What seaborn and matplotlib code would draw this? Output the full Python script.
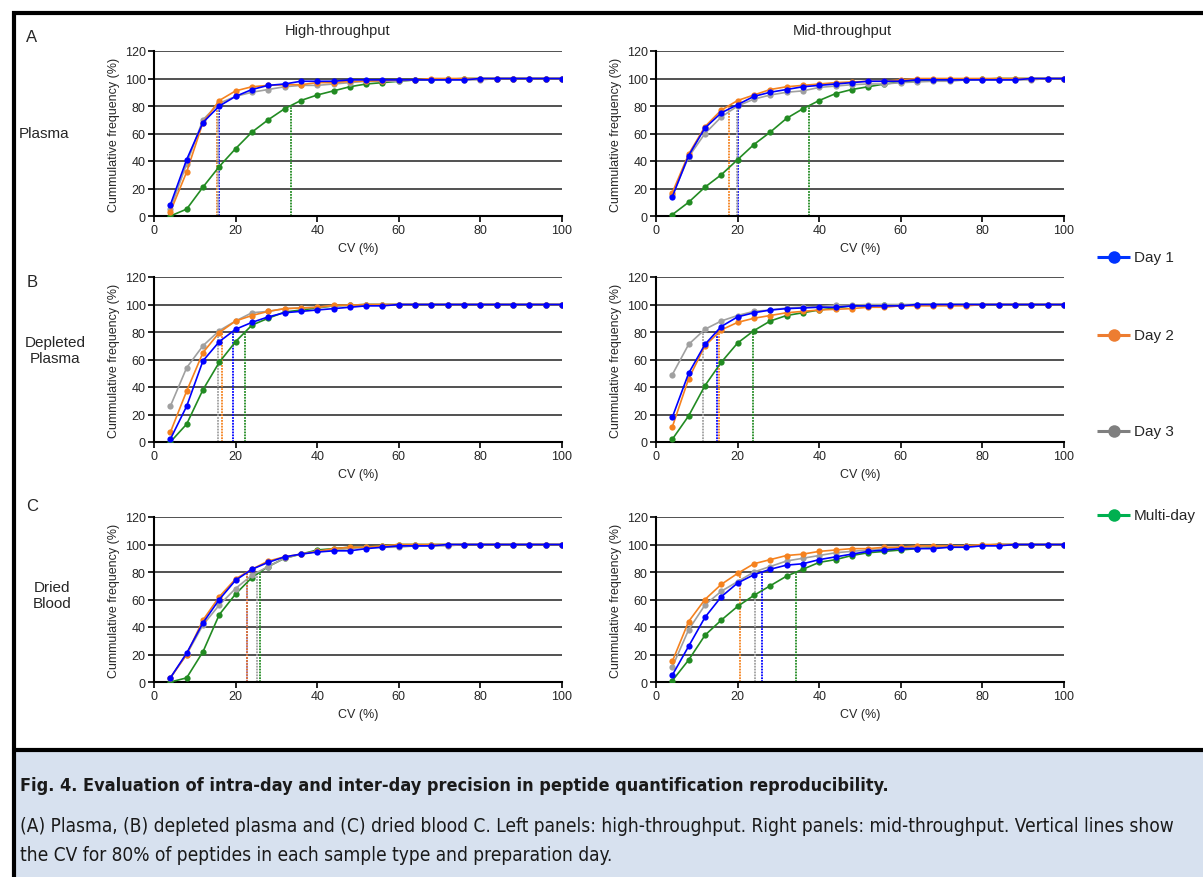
import pandas as pd
import matplotlib.pyplot as plt
import seaborn as sns
from matplotlib.lines import Line2D
from matplotlib.patches import Rectangle

# CV bins (%)
cv = [4, 8, 12, 16, 20, 24, 28, 32, 36, 40, 44, 48, 52, 56, 60, 64, 68, 72, 76, 80, 84, 88, 92, 96, 100]

series_names = ["Day 1", "Day 2", "Day 3", "Multi-day"]

# A - Plasma, high-throughput
plasma_ht_d1 = [8, 41, 68, 80, 87, 92, 95, 96, 98, 98, 98, 99, 99, 99, 99, 99, 99, 99, 99, 100, 100, 100, 100, 100, 100]
plasma_ht_d2 = [3, 32, 68, 84, 91, 94, 95, 95.5, 95.5, 97, 97, 98, 98, 98.5, 99, 99, 100, 100, 100, 100, 100, 100, 100, 100, 100]
plasma_ht_d3 = [5, 38, 70, 82, 87, 90, 92, 94, 95, 95, 96, 97, 98, 98, 98, 99, 99, 99, 99, 99, 100, 100, 100, 100, 100]
plasma_ht_md = [0, 5, 21, 36, 49, 61, 70, 78, 84, 88, 91, 94, 96, 97, 98, 99, 99, 99.5, 100, 100, 100, 100, 100, 100, 100]
plasma_ht_cv80 = [16.0, 15.4, 15.6, 33.5]

# A - Plasma, mid-throughput
plasma_mt_d1 = [14, 44, 64, 75, 81, 87, 90, 92, 94, 95, 96, 97, 98, 98, 98, 99, 99, 99, 99, 99, 99, 99, 100, 100, 100]
plasma_mt_d2 = [17, 45, 65, 77, 84, 88, 92, 94, 95, 96, 97, 97.5, 98, 98, 99, 100, 100, 100, 100, 100, 100, 100, 100, 100, 100]
plasma_mt_d3 = [15, 43, 60, 72, 80, 85, 88, 90, 91, 93.5, 94.5, 95.5, 96, 96, 97, 97.5, 98, 98, 99, 99, 99, 99, 99, 100, 100]
plasma_mt_md = [1, 10, 21, 30, 41, 52, 61, 71, 78, 84, 89, 92, 94, 96, 97.5, 98, 99, 99, 99, 99.5, 100, 100, 100, 100, 100]
plasma_mt_cv80 = [20.0, 17.8, 19.8, 37.4]

# B - Depleted plasma, high-throughput
depleted_ht_d1 = [2, 26, 59, 73, 82, 87, 91, 94, 95, 96, 97, 98, 99, 99, 100, 100, 100, 100, 100, 100, 100, 100, 100, 100, 100]
depleted_ht_d2 = [7, 37, 65, 79.6, 88, 92, 95, 97, 97.5, 98, 99.5, 99.5, 100, 100, 100, 100, 100, 100, 100, 100, 100, 100, 100, 100, 100]
depleted_ht_d3 = [26, 54, 70, 81, 88, 94, 95, 97, 97.5, 98, 99, 99.5, 100, 100, 100, 100, 100, 100, 100, 100, 100, 100, 100, 100, 100]
depleted_ht_md = [0, 13, 38, 58, 73, 85, 90, 94.5, 96, 97.5, 99, 99.5, 100, 100, 100, 100, 100, 100, 100, 100, 100, 100, 100, 100, 100]
depleted_ht_cv80 = [19.3, 16.7, 15.8, 22.4]

# B - Depleted plasma, mid-throughput
depleted_mt_d1 = [18, 50, 71, 84, 91, 94, 96, 97, 97.5, 98, 98, 99, 99, 99, 99, 100, 100, 100, 100, 100, 100, 100, 100, 100, 100]
depleted_mt_d2 = [11, 46, 70, 81.5, 87, 90, 92, 94, 95, 96, 96.5, 97, 98, 98, 99, 99, 99, 99, 99, 100, 100, 100, 100, 100, 100]
depleted_mt_d3 = [49, 71, 82, 88, 92, 95, 96, 97.5, 98, 98.5, 99.5, 99.5, 100, 100, 100, 100, 100, 100, 100, 100, 100, 100, 100, 100, 100]
depleted_mt_md = [2, 19, 41, 58, 72, 81, 88, 92, 94, 96, 97.5, 99, 99, 99.5, 99.5, 100, 100, 100, 100, 100, 100, 100, 100, 100, 100]
depleted_mt_cv80 = [14.9, 15.4, 11.6, 23.7]

# C - Dried blood, high-throughput
dried_ht_d1 = [3, 21, 43, 60, 74, 82, 87, 91, 93, 94.5, 95.4, 95.4, 97, 98, 99, 99, 99, 100, 100, 100, 100, 100, 100, 100, 100]
dried_ht_d2 = [3, 20, 45, 62, 75, 82, 88, 91, 93, 95, 97, 98, 98, 99, 100, 100, 100, 100, 100, 100, 100, 100, 100, 100, 100]
dried_ht_d3 = [3, 20, 41.5, 56, 68, 77.7, 84, 90, 93, 95, 96, 97, 98, 98, 98, 99, 99, 99, 100, 100, 100, 100, 100, 100, 100]
dried_ht_md = [0, 3, 22, 49, 64, 76, 84, 90, 93, 96, 97, 98, 98, 99, 100, 100, 100, 100, 100, 100, 100, 100, 100, 100, 100]
dried_ht_cv80 = [22.9, 22.7, 25.2, 25.9]

# C - Dried blood, mid-throughput
dried_mt_d1 = [5, 26, 47, 62, 72, 78, 82, 85, 86, 89, 91, 93, 95, 96, 97, 97, 97, 98, 98, 99, 99, 100, 100, 100, 100]
dried_mt_d2 = [15, 44, 60, 71, 79, 86, 89, 92, 93, 95, 96, 97, 97, 98, 98, 99, 99, 99, 99, 100, 100, 100, 100, 100, 100]
dried_mt_d3 = [11, 38, 56, 66, 73, 80, 84, 88, 90, 92, 94, 95, 96, 97, 98, 98, 98.5, 99, 99, 99.5, 100, 100, 100, 100, 100]
dried_mt_md = [1, 16, 34, 45, 55, 63, 70, 77, 82, 87, 89, 92, 94, 95, 96, 97, 98, 98.5, 99, 99.5, 100, 100, 100, 100, 100]
dried_mt_cv80 = [26.1, 20.6, 24.2, 34.4]

line_colors = {"Day 1": "#0000ff", "Day 2": "#f5821f", "Day 3": "#a0a0a0", "Multi-day": "#228b22"}
legend_colors = {"Day 1": "#0033ff", "Day 2": "#ed7d31", "Day 3": "#7f7f7f", "Multi-day": "#00b050"}

panels = [
    ([plasma_ht_d1, plasma_ht_d2, plasma_ht_d3, plasma_ht_md], plasma_ht_cv80),
    ([plasma_mt_d1, plasma_mt_d2, plasma_mt_d3, plasma_mt_md], plasma_mt_cv80),
    ([depleted_ht_d1, depleted_ht_d2, depleted_ht_d3, depleted_ht_md], depleted_ht_cv80),
    ([depleted_mt_d1, depleted_mt_d2, depleted_mt_d3, depleted_mt_md], depleted_mt_cv80),
    ([dried_ht_d1, dried_ht_d2, dried_ht_d3, dried_ht_md], dried_ht_cv80),
    ([dried_mt_d1, dried_mt_d2, dried_mt_d3, dried_mt_md], dried_mt_cv80),
]

sns.set_theme(style="white")
plt.rcParams["font.family"] = ["Liberation Sans", "DejaVu Sans"]

W, H = 1203, 878
fig = plt.figure(figsize=(W / 100, H / 100), dpi=100)

# frame and caption box
fig.patches.append(Rectangle((15 / W, 0), 1, 126 / H, transform=fig.transFigure,
                             facecolor="#d7e1ef", edgecolor="none", zorder=0))
for xs, ys in [([12, W], [13.5, 13.5]), ([13.5, 13.5], [12, H]), ([12, W], [751, 751])]:
    fig.add_artist(Line2D([x / W for x in xs], [1 - y / H for y in ys], color="black", lw=3,
                          solid_capstyle="butt", transform=fig.transFigure))

col_left = [154, 656]
row_bottom = [217, 443, 683]
ax_w, ax_h = 408, 165

hue_order = ["Multi-day", "Day 3", "Day 2", "Day 1"]

for i, (vals, cv80) in enumerate(panels):
    r, c = divmod(i, 2)
    ax = fig.add_axes([col_left[c] / W, 1 - row_bottom[r] / H, ax_w / W, ax_h / H])
    df = pd.DataFrame({
        "cv": cv * 4,
        "freq": [v for s in vals for v in s],
        "series": [n for n in series_names for _ in cv],
    })
    for name, x80 in zip(series_names, cv80):
        ax.vlines(x80, 0, 80, color=line_colors[name], lw=1.3, linestyles=(0, (1, 0.6)), zorder=1)
    for y in range(20, 121, 20):
        ax.axhline(y, color="#222222", lw=1.1, zorder=0.5)
    sns.lineplot(data=df, x="cv", y="freq", hue="series", hue_order=hue_order,
                 palette=line_colors, marker="o", markersize=4.5, markeredgewidth=0,
                 lw=1.2, sort=False, legend=False, ax=ax, zorder=3)
    ax.set_xlim(0, 100)
    ax.set_ylim(0, 120)
    ax.set_xticks(range(0, 101, 20))
    ax.set_yticks(range(0, 121, 20))
    ax.tick_params(axis="both", labelsize=9, length=4, width=1.2, color="black", pad=2,
                   direction="out", left=True, bottom=True)
    for side in ["top", "right"]:
        ax.spines[side].set_visible(False)
    for side in ["left", "bottom"]:
        ax.spines[side].set_color("black")
        ax.spines[side].set_linewidth(1.5)
    ax.set_xlabel("CV (%)", fontsize=9, labelpad=4)
    ax.set_ylabel("Cummulative frequency (%)", fontsize=9, labelpad=3)
    ax.set_facecolor("white")

fig.text(338 / W, 1 - 31 / H, "High-throughput", fontsize=10.5, ha="center", va="center")
fig.text(842 / W, 1 - 31 / H, "Mid-throughput", fontsize=10.5, ha="center", va="center")

for letter, y in zip(["A", "B", "C"], [37, 283, 507]):
    fig.text(32 / W, 1 - y / H, letter, fontsize=12, ha="center", va="center")
for label, x, y in zip(["Plasma", "Depleted\nPlasma", "Dried\nBlood"], [44, 55, 52], [134, 351, 596]):
    fig.text(x / W, 1 - y / H, label, fontsize=11, ha="center", va="center", linespacing=1.1)

# legend, one entry per series placed down the right side
for name, y in zip(series_names, [258, 336, 432, 516]):
    fig.add_artist(Line2D([1097 / W, 1130 / W], [1 - y / H, 1 - y / H], color=legend_colors[name],
                          lw=2.2, solid_capstyle="butt", transform=fig.transFigure))
    fig.add_artist(Line2D([1113.5 / W], [1 - y / H], color=legend_colors[name], marker="o",
                          markersize=9, markeredgewidth=0, transform=fig.transFigure))
    fig.text(1134 / W, 1 - y / H, name, fontsize=11, ha="left", va="center")

cap_font = dict(family="DejaVu Sans", fontstretch="condensed", color="#1a1a1a")
fig.text(20 / W, 1 - 786 / H,
         "Fig. 4. Evaluation of intra-day and inter-day precision in peptide quantification reproducibility.",
         fontsize=13, fontweight="bold", ha="left", va="center", **cap_font)
fig.text(20 / W, 1 - 827 / H,
         "(A) Plasma, (B) depleted plasma and (C) dried blood C. Left panels: high-throughput. "
         "Right panels: mid-throughput. Vertical lines show",
         fontsize=13.7, ha="left", va="center", **cap_font)
fig.text(20 / W, 1 - 856 / H,
         "the CV for 80% of peptides in each sample type and preparation day.",
         fontsize=13.7, ha="left", va="center", **cap_font)

fig.savefig("out.png", dpi=100)
